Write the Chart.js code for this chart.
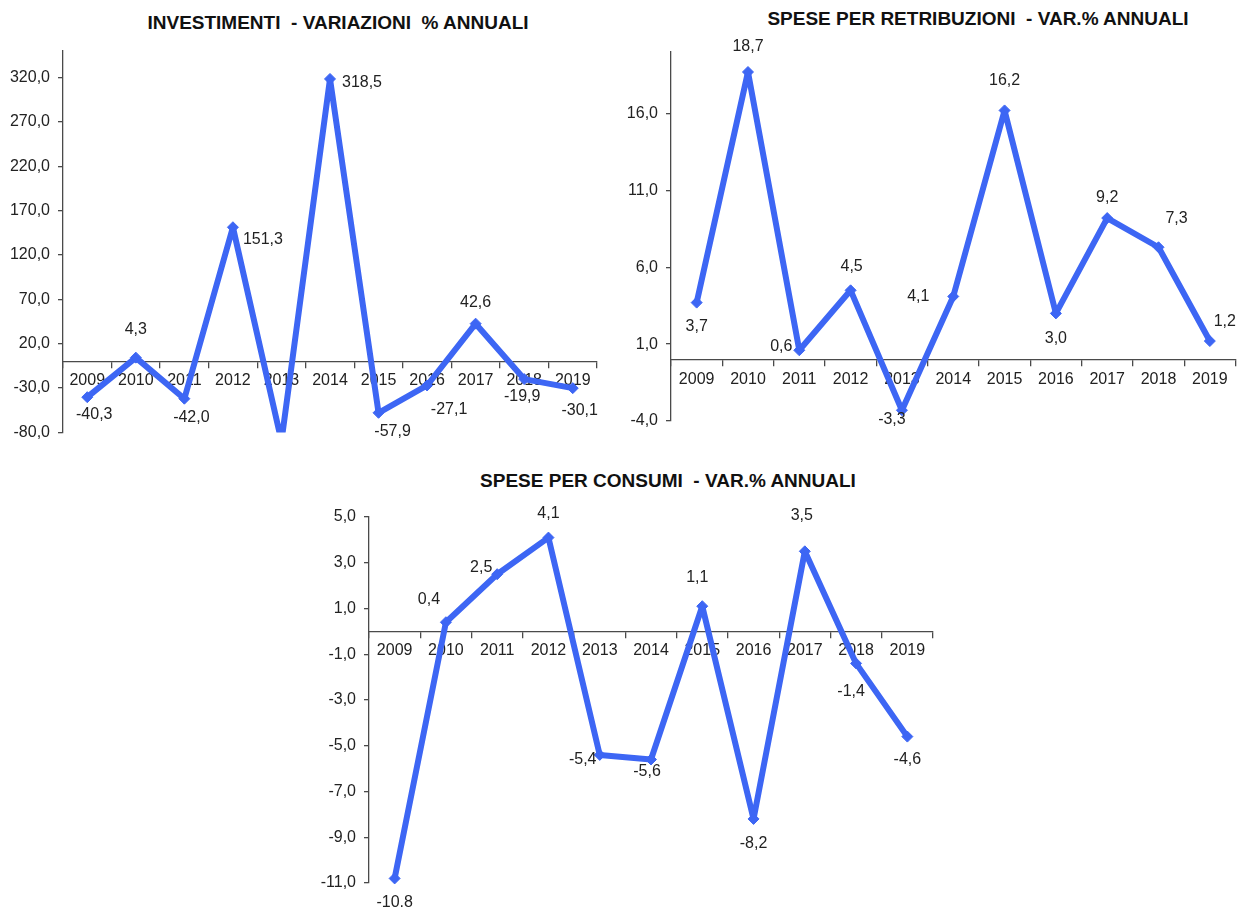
<!DOCTYPE html>
<html lang="it">
<head>
<meta charset="utf-8">
<title>Variazioni % annuali</title>
<script src="https://cdn.jsdelivr.net/npm/chart.js@4.4.1/dist/chart.umd.min.js"></script>
<style>
  html, body { margin: 0; padding: 0; background: #fff; }
  body { width: 1242px; height: 910px; position: relative; overflow: hidden;
         font-family: "Liberation Sans", Arial, sans-serif; }
  .title { position: absolute; width: 600px; text-align: center; white-space: pre;
           font-weight: bold; font-size: 19px; color: #111; line-height: 22px; }
  .box { position: absolute; }
</style>
</head>
<body>
<div class="title" style="left:38px; top:12px;">INVESTIMENTI  - VARIAZIONI  % ANNUALI</div>
<div class="title" style="left:678px; top:8px;">SPESE PER RETRIBUZIONI  - VAR.% ANNUALI</div>
<div class="title" style="left:368px; top:470px;">SPESE PER CONSUMI  - VAR.% ANNUALI</div>

<div class="box" style="left:0; top:0; width:610px; height:450px;"><canvas id="cInvest"></canvas></div>
<div class="box" style="left:620px; top:0; width:622px; height:450px;"><canvas id="cRetrib"></canvas></div>
<div class="box" style="left:300px; top:460px; width:650px; height:450px;"><canvas id="cConsumi"></canvas></div>

<script>
// Years on the category axis
const years = ['2009', '2010', '2011', '2012', '2013', '2014', '2015', '2016', '2017', '2018', '2019'];

// Annual % changes
const investimenti = [-40.3, 4.3, -42.0, 151.3, -90.0, 318.5, -57.9, -27.1, 42.6, -19.9, -30.1];
const retribuzioni = [3.7, 18.7, 0.6, 4.5, -3.3, 4.1, 16.2, 3.0, 9.2, 7.3, 1.2];
const consumi = [-10.8, 0.4, 2.5, 4.1, -5.4, -5.6, 1.1, -8.2, 3.5, -1.4, -4.6];

// Value-axis tick values
const investTicks = [-80, -30, 20, 70, 120, 170, 220, 270, 320];
const retribTicks = [-4, 1, 6, 11, 16];
const consumiTicks = [-11, -9, -7, -5, -3, -1, 1, 3, 5];

// Label placement relative to each point (dx, dy); null = no label
const investLabelPos = [[7, 17], [0, -28], [7, 19], [30, 12], null, [32, 4], [14, 19], [22, 24], [0, -21], [-2, 18], [7, 22]];
const retribLabelPos = [[0, 24], [0, -25], [-18, -4], [1, -24], [-10, 9], [-35, 0], [0, -30], [0, 25], [0, -20], [18, -29], [15, -19]];
const consumiLabelPos = [[0, 24], [-17, -23], [-16, -7], [0, -24], [-17, 5], [-4, 12], [-5, -29], [0, 25], [-3, -36], [-5, 28], [0, 23]];

const LINE = '#3d66f4';
const AXIS = '#4a4a4a';
const TEXT = '#222222';
const FONT = '"Liberation Sans", Arial, sans-serif';

Chart.defaults.font.family = FONT;
Chart.defaults.font.size = 16;
Chart.defaults.color = TEXT;

const fmt = v => v.toFixed(1).replace('.', ',');

// Draws the value next to each point
const valueLabels = {
  id: 'valueLabels',
  afterDatasetsDraw(chart, args, opts) {
    const ctx = chart.ctx;
    const meta = chart.getDatasetMeta(0);
    const data = chart.data.datasets[0].data;
    ctx.save();
    ctx.font = '16px ' + FONT;
    ctx.fillStyle = TEXT;
    ctx.textAlign = 'center';
    ctx.textBaseline = 'middle';
    meta.data.forEach((pt, i) => {
      const off = opts.offsets[i];
      if (!off) return;
      const text = (opts.texts && opts.texts[i]) || fmt(data[i]);
      ctx.fillText(text, pt.x + off[0], pt.y + off[1]);
    });
    ctx.restore();
  }
};

function makeChart(id, values, range, tickValues, layout, labelOpts, clip) {
  return new Chart(document.getElementById(id), {
    type: 'line',
    data: {
      labels: years,
      datasets: [{
        data: values,
        borderColor: LINE,
        backgroundColor: LINE,
        borderWidth: 6,
        borderJoinStyle: 'bevel',
        tension: 0,
        pointStyle: 'rectRot',
        pointRadius: 5.5,
        pointBorderWidth: 1,
        pointBackgroundColor: LINE,
        pointBorderColor: LINE,
        clip: clip
      }]
    },
    options: {
      responsive: true,
      maintainAspectRatio: false,
      animation: false,
      events: [],
      layout: { padding: layout.padding },
      plugins: {
        legend: { display: false },
        title: { display: false },
        tooltip: { enabled: false },
        valueLabels: labelOpts
      },
      scales: {
        x: {
          type: 'category',
          position: { y: 0 },
          offset: true,
          border: { display: true, color: AXIS, width: 1.3 },
          grid: { display: true, offset: true, drawOnChartArea: false, drawTicks: true,
                  tickLength: 6, color: AXIS, lineWidth: 1.3 },
          ticks: { padding: 4, maxRotation: 0, autoSkip: false, color: TEXT, font: { size: 16 } }
        },
        y: {
          type: 'linear',
          min: range[0],
          max: range[1],
          border: { display: true, color: AXIS, width: 1.3 },
          grid: { display: true, drawOnChartArea: false, drawTicks: true,
                  tickLength: 5, color: AXIS, lineWidth: 1.3 },
          afterBuildTicks: scale => { scale.ticks = tickValues.map(v => ({ value: v })); },
          afterFit: scale => { scale.width = layout.yWidth; },
          ticks: { padding: 8, color: TEXT, font: { size: 16 }, callback: v => fmt(v) }
        }
      }
    },
    plugins: [valueLabels]
  });
}

makeChart('cInvest', investimenti, [-80, 350], investTicks,
  { padding: { top: 51, bottom: 16, left: 0, right: 13 }, yWidth: 63 },
  { offsets: investLabelPos },
  { left: false, right: false, top: false, bottom: 0 });

makeChart('cRetrib', retribuzioni, [-4, 20], retribTicks,
  { padding: { top: 52, bottom: 29, left: 0, right: 5 }, yWidth: 51 },
  { offsets: retribLabelPos },
  false);

makeChart('cConsumi', consumi, [-11, 5], consumiTicks,
  { padding: { top: 57, bottom: 27, left: 0, right: 17 }, yWidth: 69 },
  { offsets: consumiLabelPos, texts: ['-10.8'] },
  false);
</script>
</body>
</html>
